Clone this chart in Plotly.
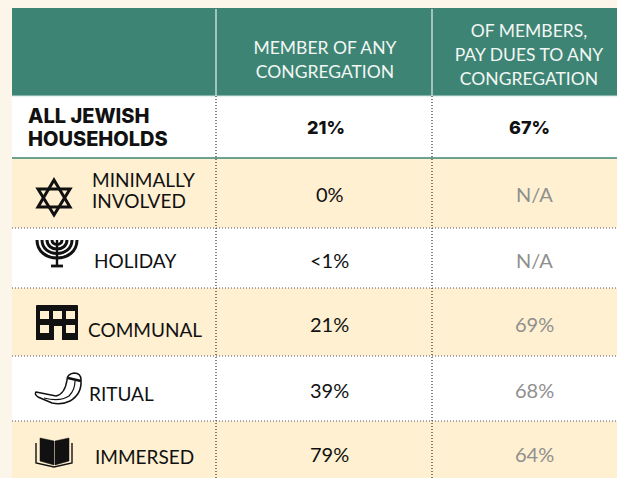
import plotly.graph_objects as go

W, H = 617, 478
TEAL = "#3e8474"
CREAM = "#fef0d0"
PAGE = "#fcf6ea"
INK = "#111111"
GREY = "#8f8f8f"
FONT = "Lato, Open Sans, sans-serif"
BOLD_FONT = "Inter, Lato, sans-serif"

header_member = ["MEMBER OF ANY", "CONGREGATION"]
header_dues = ["OF MEMBERS,", "PAY DUES TO ANY", "CONGREGATION"]
segments = [["ALL JEWISH", "HOUSEHOLDS"], ["MINIMALLY", "INVOLVED"], ["HOLIDAY"], ["COMMUNAL"], ["RITUAL"], ["IMMERSED"]]
member = ["21%", "0%", "<1%", "21%", "39%", "79%"]
dues = ["67%", "N/A", "N/A", "69%", "68%", "64%"]

col_edges = [12, 216, 432, 617]
row_edges = [96, 158, 228, 288, 356, 421, 478]
head_top = 8
label_x = [26, 89.5, 91.5, 85.5, 86.5, 92.5]
label_y = [[116, 138.5], [179, 200], [260], [329], [393], [456.5]]
value_y = [127.5, 193.5, 259.5, 323.5, 389.5, 453.5]

shapes = []
def rect(x0, y0, x1, y1, fill, layer="below"):
    shapes.append(dict(type="rect", x0=x0, y0=y0, x1=x1, y1=y1, fillcolor=fill, line_width=0, layer=layer))
def line(x0, y0, x1, y1, color, width, dash="solid"):
    shapes.append(dict(type="line", x0=x0, y0=y0, x1=x1, y1=y1, line=dict(color=color, width=width, dash=dash)))
def path(d, fill=None, color=INK, width=0):
    shapes.append(dict(type="path", path=d, fillcolor=fill or "rgba(0,0,0,0)",
                       line=dict(color=color, width=width)))

rect(0, 0, W, H, PAGE)
rect(col_edges[0], head_top, W, row_edges[0], TEAL)
for i in range(len(segments)):
    rect(col_edges[0], row_edges[i], W, row_edges[i + 1], CREAM if i % 2 else "#ffffff")

# rules
line(col_edges[0], row_edges[0], W, row_edges[0], "#cfe3dc", 1)
line(col_edges[0], row_edges[1], W, row_edges[1], TEAL, 1.5)
for y in row_edges[2:-1]:
    line(col_edges[0], y, W, y, "#55506a", 1, "1px,2px")
for x in col_edges[1:3]:
    line(x, head_top + 1, x, row_edges[0], "#e6efe9", 1.2)
    line(x, row_edges[0], x, H, "#333333", 1.2, "1px,2px")

# icons: star of David
path("M54,180 L70,207 L38,207 Z", width=3)
path("M54,215 L70,189 L38,189 Z", width=3)
# menorah
for r in (5, 10, 15, 20):
    path(f"M{57-r},240 C{57-r},{240+r*1.2} {57+r},{240+r*1.2} {57+r},240", width=3)
path("M57,240 L57,266", width=2.4)
path("M51,266 L63,266", width=2.8)
# building
path("M37,305 L77,305 Q78,305 78,306 L78,340 L36,340 L36,306 Q36,305 37,305 Z", fill=INK)
for wx in (40, 53, 66):
    rect(wx, 311, wx + 9, 319, CREAM, "above")
for wx in (40, 66):
    rect(wx, 325, wx + 9, 333, CREAM, "above")
rect(54, 326, 62, 340, CREAM, "above")
# shofar
path("M36,392 L56,396 Q65,394 67,380 Q67,374 74,373 Q81,373 81,380 Q82,394 70,401 Q62,405 52,403 L38,397 Q34,394 36,392 Z",
     fill="#ffffff", width=1.5)
path("M44,398 Q60,402 69,396 Q75,390 75,381", width=1.2)
path("M68,378 L81,381", width=2.4)
# book
path("M40,438 L54,441 L54,465 L40,461 Z", fill=INK, width=0.5)
path("M69,438 L55,441 L55,465 L69,461 Z", fill=INK, width=0.5)
path("M36,443 L36,463 L54,467 L72,463 L72,443", width=1.4)

fig = go.Figure()
for lines, cx, ys in [(header_member, 325, [50, 74]), (header_dues, 529, [33, 57, 81])]:
    fig.add_trace(go.Scatter(x=[cx] * len(lines), y=ys, mode="text", text=lines,
                             textfont=dict(family=FONT, size=17.5, color="#f2f7f4"), hoverinfo="skip"))

annotations = []
for i, seg in enumerate(segments):
    for txt, y in zip(seg, label_y[i]):
        annotations.append(dict(x=label_x[i], y=y, text=txt,
                                xanchor="left", yanchor="middle", showarrow=False,
                                font=dict(family=BOLD_FONT if i == 0 else FONT, size=20 if i == 0 else 19,
                                          color=INK, weight=800 if i == 0 else 400)))
    for cx, cx_b, v, col in [(329.5, 326, member[i], INK), (534, 529, dues[i], INK if i == 0 else GREY)]:
        annotations.append(dict(x=cx_b if i == 0 else cx, y=value_y[i], text=v, showarrow=False,
                                font=dict(family=BOLD_FONT if i == 0 else FONT, size=18 if i == 0 else 20,
                                          color=col, weight=800 if i == 0 else 400)))

fig.update_layout(
    width=W, height=H, margin=dict(l=0, r=0, t=0, b=0), showlegend=False,
    paper_bgcolor=PAGE, plot_bgcolor=PAGE, shapes=shapes, annotations=annotations,
    xaxis=dict(range=[0, W], visible=False, fixedrange=True),
    yaxis=dict(range=[H, 0], visible=False, fixedrange=True),
)
fig.write_html("out.html", config=dict(displayModeBar=False),
               post_script="document.body.style.margin='0';document.body.style.overflow='hidden';document.body.style.background='#fcf6ea';")
